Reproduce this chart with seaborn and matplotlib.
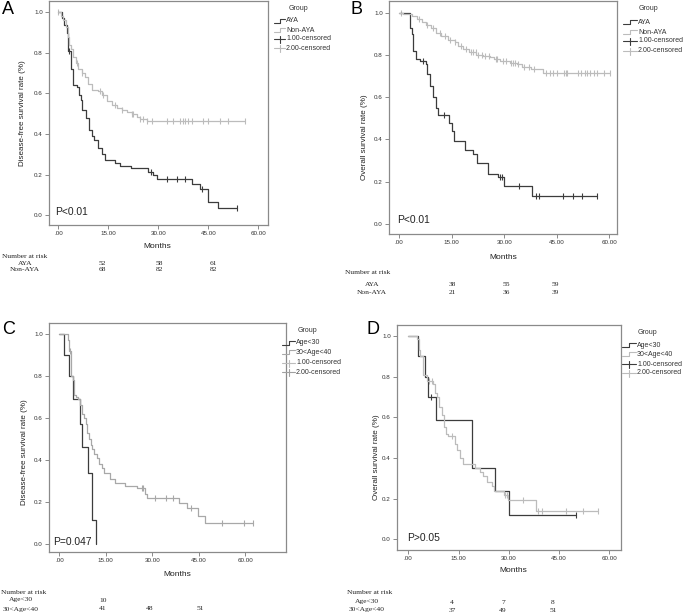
import numpy as np
import pandas as pd
import matplotlib
matplotlib.use("Agg")
import matplotlib.pyplot as plt
from matplotlib.lines import Line2D
import seaborn as sns

# ---------------- DATA ----------------
# Panel A: disease-free survival, AYA vs Non-AYA
A_aya_t = [0, 1, 1.8, 2.5, 2.8, 3.7, 4.3, 5.5, 6.2, 6.8, 7.2, 8.3, 9.3, 10.0, 10.8, 11.8, 13.0, 14.0,
           17.0, 18.5, 21.8, 27.0, 28.5, 29.5, 40.0, 42.5, 45.0, 48.0, 53.5]
A_aya_s = [1.0, 0.97, 0.94, 0.90, 0.81, 0.72, 0.64, 0.63, 0.59, 0.57, 0.52, 0.48, 0.42, 0.39, 0.37, 0.33,
           0.30, 0.27, 0.255, 0.24, 0.23, 0.214, 0.20, 0.18, 0.155, 0.13, 0.065, 0.033, 0.033]
A_aya_cens = [3.3, 27.7, 32.5, 35.5, 38.0, 43.0, 53.5]
A_non_t = [0, 0.8, 1.5, 2.2, 2.8, 3.3, 3.8, 4.5, 5.2, 6.0, 7.0, 8.0, 9.0, 10.0, 12.0, 13.0, 14.5, 16.0,
           17.5, 19.0, 20.5, 22.0, 23.5, 24.5, 26.5, 56.0]
A_non_s = [1.0, 0.98, 0.96, 0.93, 0.88, 0.84, 0.82, 0.78, 0.75, 0.72, 0.70, 0.68, 0.645, 0.615, 0.61, 0.59,
           0.565, 0.545, 0.53, 0.52, 0.51, 0.50, 0.485, 0.475, 0.465, 0.465]
A_non_cens = [0, 5.5, 7.0, 12.5, 13.5, 17.0, 19.0, 22.0, 22.5, 24.5, 25.5, 26.5, 28.0, 32.5, 34.5, 36.5,
              37.5, 38.0, 39.0, 40.0, 43.5, 45.0, 48.5, 51.0, 56.0]

# Panel B: overall survival, AYA vs Non-AYA
B_aya_t = [0, 3.0, 3.5, 3.8, 4.8, 6.0, 7.5, 8.0, 8.8, 9.7, 10.4, 11.1, 14.2, 15.0, 15.7, 18.8, 21.1, 22.1,
           25.4, 28.3, 30.0, 37.8, 56.4]
B_aya_s = [1.0, 0.926, 0.90, 0.82, 0.78, 0.77, 0.757, 0.71, 0.655, 0.60, 0.55, 0.515, 0.48, 0.44, 0.395,
           0.35, 0.33, 0.29, 0.235, 0.224, 0.18, 0.135, 0.135]
B_aya_cens = [6.9, 12.8, 28.8, 29.4, 34.2, 39.2, 40.0, 46.9, 49.7, 52.1, 56.4]
B_non_t = [0, 1.0, 3.5, 5.0, 6.5, 7.5, 9.0, 10.5, 12.0, 13.8, 15.8, 16.8, 18.3, 20.0, 22.0, 24.0, 26.0,
           27.0, 28.8, 31.5, 33.5, 35.0, 37.5, 41.0, 60.2]
B_non_s = [1.0, 0.995, 0.985, 0.97, 0.955, 0.94, 0.925, 0.905, 0.89, 0.87, 0.86, 0.84, 0.83, 0.815, 0.80,
           0.795, 0.79, 0.78, 0.77, 0.76, 0.755, 0.745, 0.735, 0.715, 0.715]
B_non_cens = [0.5, 5.5, 8.0, 9.5, 11.5, 13.0, 14.5, 16.0, 17.5, 19.0, 20.5, 21.0, 21.8, 22.5, 23.5, 24.5,
              25.5, 27.5, 28.0, 29.5, 30.5, 31.8, 32.5, 33.0, 34.0, 35.5, 37.0, 38.5, 42.0, 43.0, 44.0,
              45.0, 47.0, 47.5, 48.0, 51.0, 52.0, 53.0, 53.5, 54.5, 55.5, 56.5, 58.5, 60.2]

# Panel C: disease-free survival, Age<30 vs 30<Age<40
C_lt30_t = [0, 1.6, 3.2, 4.5, 6.7, 7.4, 9.4, 10.4, 11.7]
C_lt30_s = [1.0, 0.90, 0.80, 0.69, 0.57, 0.46, 0.34, 0.115, 0.0]
C_lt30_cens = []
C_mid_t = [0, 2.7, 3.1, 3.8, 4.5, 4.7, 5.3, 5.9, 6.7, 7.2, 8.0, 8.5, 9.0, 9.7, 10.1, 10.7, 11.2, 12.1,
           12.8, 13.7, 14.4, 16.4, 18.0, 21.2, 25.0, 27.7, 28.2, 38.8, 41.1, 44.9, 47.1, 62.4]
C_mid_s = [1.0, 0.97, 0.92, 0.80, 0.78, 0.71, 0.70, 0.69, 0.66, 0.62, 0.60, 0.57, 0.53, 0.50, 0.47, 0.45,
           0.43, 0.41, 0.38, 0.36, 0.34, 0.31, 0.29, 0.275, 0.265, 0.24, 0.22, 0.195, 0.17, 0.135, 0.10, 0.10]
C_mid_cens = [3.4, 26.6, 27.1, 30.9, 34.5, 36.8, 42.4, 52.5, 59.5, 62.4]

# Panel D: overall survival, Age<30 vs 30<Age<40
D_lt30_t = [0, 3.0, 5.0, 6.0, 8.2, 19.1, 26.0, 30.1, 50.0]
D_lt30_s = [1.0, 0.90, 0.80, 0.70, 0.585, 0.35, 0.235, 0.117, 0.117]
D_lt30_cens = [6.8, 50.0]
D_mid_t = [0, 2.5, 3.2, 3.5, 4.3, 5.7, 7.3, 8.0, 8.7, 9.3, 10.0, 10.6, 11.2, 11.9, 13.9, 14.6, 15.4, 16.2,
           19.9, 21.4, 22.4, 23.4, 24.9, 25.6, 28.5, 29.9, 38.1, 56.7]
D_mid_s = [1.0, 0.985, 0.93, 0.90, 0.81, 0.78, 0.765, 0.72, 0.70, 0.65, 0.61, 0.55, 0.52, 0.51, 0.47, 0.44,
           0.40, 0.37, 0.35, 0.33, 0.31, 0.28, 0.26, 0.235, 0.22, 0.195, 0.14, 0.14]
D_mid_cens = [6.3, 7.0, 12.9, 28.9, 29.4, 34.3, 38.8, 40.0, 47.0, 52.2, 56.7]

# Number at risk tables
A_risk_aya = [52, 58, 61]
A_risk_non = [68, 82, 82]
B_risk_aya = [38, 55, 59]
B_risk_non = [21, 36, 39]
C_risk_lt30 = [10]
C_risk_mid = [41, 48, 51]
D_risk_lt30 = [4, 7, 8]
D_risk_mid = [37, 49, 51]

x_ticks = [0, 15, 30, 45, 60]
x_ticklabels = [".00", "15.00", "30.00", "45.00", "60.00"]
y_ticks = [0.0, 0.2, 0.4, 0.6, 0.8, 1.0]
y_ticklabels = ["0.0", "0.2", "0.4", "0.6", "0.8", "1.0"]

# ---------------- STYLE ----------------
sns.set_style("white")
plt.rcParams["font.family"] = ["Liberation Sans", "DejaVu Sans"]

W, H = 685, 615
fig = plt.figure(figsize=(W / 100, H / 100), dpi=100)

DARK = "#3c3c3c"
LIGHT = "#bcbcbc"
SPINE = "#8a8a8a"


def fx(x):
    return x / W


def fy(y):
    return 1 - y / H


def add_ax(l, t, r, b):
    return fig.add_axes([fx(l), fy(b), (r - l) / W, (b - t) / H])


def step_val(ts, ss, t):
    idx = np.searchsorted(np.asarray(ts), t, side="right") - 1
    return np.asarray(ss)[np.clip(idx, 0, len(ss) - 1)]


def km_panel(ax, groups, xlim, ylim):
    rows = []
    crow = []
    palette = {}
    for name, ts, ss, cens, col in groups:
        palette[name] = col
        for t, s in zip(ts, ss):
            rows.append({"time": t, "surv": s, "group": name})
        for c in cens:
            crow.append({"time": c, "surv": float(step_val(ts, ss, c)), "group": name})
    df = pd.DataFrame(rows)
    sns.lineplot(data=df, x="time", y="surv", hue="group", palette=palette,
                 estimator=None, sort=False, drawstyle="steps-post",
                 linewidth=0.9, legend=False, ax=ax)
    if crow:
        cdf = pd.DataFrame(crow)
        for name in cdf["group"].unique():
            sub = cdf[cdf["group"] == name]
            sns.scatterplot(data=sub, x="time", y="surv", marker="|", s=13,
                            color=palette[name], linewidth=0.8, legend=False, ax=ax)
    ax.set_xlim(*xlim)
    ax.set_ylim(*ylim)
    ax.set_xticks(x_ticks)
    ax.set_xticklabels(x_ticklabels)
    ax.set_yticks(y_ticks)
    ax.set_yticklabels(y_ticklabels)
    ax.set_xlabel("")
    ax.set_ylabel("")
    ax.tick_params(direction="out", length=3, width=0.7, color=SPINE, labelsize=4.5,
                   labelcolor="#333333", pad=1.5, bottom=True, left=True)
    for sp in ax.spines.values():
        sp.set_visible(True)
        sp.set_color(SPINE)
        sp.set_linewidth(0.9)


def legend_block(xh0, xh1, xt, y_title, ys, labels, colors, kinds):
    fig.text(fx((xh0 + xt + 28) / 2 + 4), fy(y_title), "Group", fontsize=5, ha="center", va="center",
             color="#333333")
    for y, lab, col, kind in zip(ys, labels, colors, kinds):
        if kind == "step":
            xm = (xh0 + xh1) / 2
            xs = [fx(xh0), fx(xm), fx(xm), fx(xh1)]
            yy = [fy(y + 2), fy(y + 2), fy(y - 2), fy(y - 2)]
            fig.add_artist(Line2D(xs, yy, color=col, lw=0.8, transform=fig.transFigure))
        else:
            xm = (xh0 + xh1) / 2
            fig.add_artist(Line2D([fx(xh0), fx(xh1)], [fy(y), fy(y)], color=col, lw=0.8,
                                  transform=fig.transFigure))
            fig.add_artist(Line2D([fx(xm), fx(xm)], [fy(y - 3.5), fy(y + 3.5)], color=col, lw=0.8,
                                  transform=fig.transFigure))
        fig.text(fx(xt), fy(y), lab, fontsize=5, ha="left", va="center", color="#333333")


def risk_table(x_head, y_head, x_lab, names, ys, values, xcols):
    ser = ["Liberation Serif", "DejaVu Serif"]
    fig.text(fx(x_head), fy(y_head), "Number at risk", fontsize=5.4, family=ser, ha="left",
             va="center", color="#222222")
    for name, y, vals in zip(names, ys, values):
        fig.text(fx(x_lab), fy(y), name, fontsize=5.4, family=ser, ha="center", va="center",
                 color="#222222")
        for v, xc in zip(vals, xcols):
            fig.text(fx(xc), fy(y), str(v), fontsize=5.4, family=ser, ha="center", va="center",
                     color="#222222")


# ---------------- PANEL A ----------------
axA = add_ax(49, 1, 268, 225)
km_panel(axA, [("AYA", A_aya_t, A_aya_s, A_aya_cens, DARK),
               ("Non-AYA", A_non_t, A_non_s, A_non_cens, LIGHT)],
         (-2.8, 62.9), (-0.049, 1.056))
fig.text(fx(23), fy(113), "Disease-free survival rate (%)", rotation=90, fontsize=5.8,
         ha="center", va="center", color="#222222")
fig.text(fx(157), fy(247), "Months", fontsize=6, ha="center", va="center", color="#222222")
fig.text(fx(55), fy(212), "P<0.01", fontsize=7.4, ha="left", va="center", color="#222222")
fig.text(fx(2), fy(10), "A", fontsize=13, ha="left", va="center", color="black")
legend_block(274, 285, 286, 9, [21, 30, 39, 48],
             ["AYA", "Non-AYA", "1.00-censored", "2.00-censored"],
             [DARK, LIGHT, DARK, LIGHT], ["step", "step", "cens", "cens"])
risk_table(2, 256, 25, ["AYA", "Non-AYA"], [264, 270], [A_risk_aya, A_risk_non], [102, 159, 213])

# ---------------- PANEL B ----------------
axB = add_ax(389, 1, 617, 234)
km_panel(axB, [("AYA", B_aya_t, B_aya_s, B_aya_cens, DARK),
               ("Non-AYA", B_non_t, B_non_s, B_non_cens, LIGHT)],
         (-2.94, 62.2), (-0.047, 1.055))
fig.text(fx(365), fy(137), "Overall survival rate (%)", rotation=90, fontsize=5.8,
         ha="center", va="center", color="#222222")
fig.text(fx(503), fy(257), "Months", fontsize=6, ha="center", va="center", color="#222222")
fig.text(fx(397), fy(220), "P<0.01", fontsize=7.4, ha="left", va="center", color="#222222")
fig.text(fx(351), fy(10), "B", fontsize=13, ha="left", va="center", color="black")
legend_block(623, 637, 638, 9, [22, 32, 41, 51],
             ["AYA", "Non-AYA", "1.00-censored", "2.00-censored"],
             [DARK, LIGHT, DARK, LIGHT], ["step", "step", "cens", "cens"])
risk_table(345, 273, 372, ["AYA", "Non-AYA"], [285, 293], [B_risk_aya, B_risk_non], [452, 506, 555])

# ---------------- PANEL C ----------------
axC = add_ax(49, 323, 286, 552)
km_panel(axC, [("Age<30", C_lt30_t, C_lt30_s, C_lt30_cens, DARK),
               ("30<Age<40", C_mid_t, C_mid_s, C_mid_cens, "#a8a8a8")],
         (-3.33, 73.2), (-0.038, 1.052))
fig.text(fx(25), fy(452), "Disease-free survival rate (%)", rotation=90, fontsize=5.8,
         ha="center", va="center", color="#222222")
fig.text(fx(177), fy(575), "Months", fontsize=6, ha="center", va="center", color="#222222")
fig.text(fx(53), fy(542), "P=0.047", fontsize=7.4, ha="left", va="center", color="#222222")
fig.text(fx(2), fy(329), "C", fontsize=13, ha="left", va="center", color="black")
legend_block(282, 295, 296, 330, [343, 352, 363, 372],
             ["Age<30", "30<Age<40", "1.00-censored", "2.00-censored"],
             [DARK, "#a8a8a8", LIGHT, "#a0a0a0"], ["step", "step", "cens", "cens"])
risk_table(1, 592, 21, ["Age<30", "30<Age<40"], [600, 609], [C_risk_lt30, C_risk_mid], [103, 150, 200])

# ---------------- PANEL D ----------------
axD = add_ax(397, 325, 621, 550)
km_panel(axD, [("Age<30", D_lt30_t, D_lt30_s, D_lt30_cens, DARK),
               ("30<Age<40", D_mid_t, D_mid_s, D_mid_cens, LIGHT)],
         (-3.37, 63.5), (-0.053, 1.054))
fig.text(fx(377), fy(457), "Overall survival rate (%)", rotation=90, fontsize=5.8,
         ha="center", va="center", color="#222222")
fig.text(fx(513), fy(571), "Months", fontsize=6, ha="center", va="center", color="#222222")
fig.text(fx(407), fy(538), "P>0.05", fontsize=7.4, ha="left", va="center", color="#222222")
fig.text(fx(367), fy(329), "D", fontsize=13, ha="left", va="center", color="black")
legend_block(622, 636, 637, 333, [345, 354, 364, 373],
             ["Age<30", "30<Age<40", "1.00-censored", "2.00-censored"],
             [DARK, LIGHT, DARK, LIGHT], ["step", "step", "cens", "cens"])
risk_table(347, 592, 367, ["Age<30", "30<Age<40"], [602, 610], [D_risk_lt30, D_risk_mid], [452, 503, 553])

fig.savefig("out.png", dpi=100, facecolor="white")
